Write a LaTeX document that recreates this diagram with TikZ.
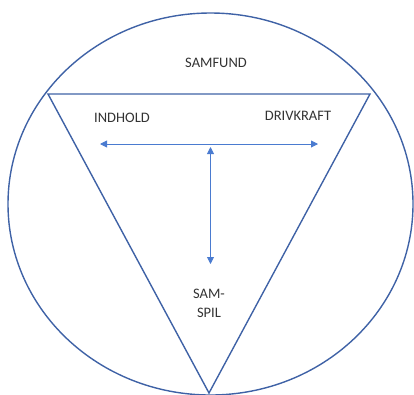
\documentclass[tikz,border=0pt]{standalone}
\usepackage{fontspec}
\setmainfont{Carlito}
\usetikzlibrary{arrows.meta,shapes.geometric}
\definecolor{shapeblue}{HTML}{3F62A6}
\definecolor{arrowblue}{HTML}{4A7BD0}
\definecolor{txt}{HTML}{333333}
\tikzset{
  outline/.style={draw=shapeblue, line width=1.4pt},
  biarrow/.style={draw=arrowblue, line width=0.9pt, {Triangle[length=7pt,width=7pt]}-{Triangle[length=7pt,width=7pt]}},
  label/.style={text=txt, font=\fontsize{14.5}{16}\selectfont, inner sep=0pt, align=center}
}
\begin{document}
\begin{tikzpicture}[x=1pt,y=-1pt]
\useasboundingbox (0,0) rectangle (414,394);
\node[ellipse, outline, minimum width=405pt, minimum height=382pt, inner sep=0pt] (circ) at (210.5,204) {};
\coordinate (tl) at (48,94);
\coordinate (tr) at (370,94);
\coordinate (ap) at (209,393);
\draw[outline, line join=miter] (tl) -- (tr) -- (ap) -- cycle;
\coordinate (hl) at (100,144);
\coordinate (hr) at (318,144);
\coordinate (vt) at (210.5,147);
\coordinate (vb) at (210.5,264);
\draw[biarrow] (hl) -- (hr);
\draw[biarrow] (vt) -- (vb);
\node[label] (samfund) at (216,63) {SAMFUND};
\node[label] (indhold) at (122,118) {INDHOLD};
\node[label] (drivkraft) at (298,116) {DRIVKRAFT};
\node[label] (samspil) at (209,303) {SAM-\\[3pt]SPIL};
\end{tikzpicture}
\end{document}
